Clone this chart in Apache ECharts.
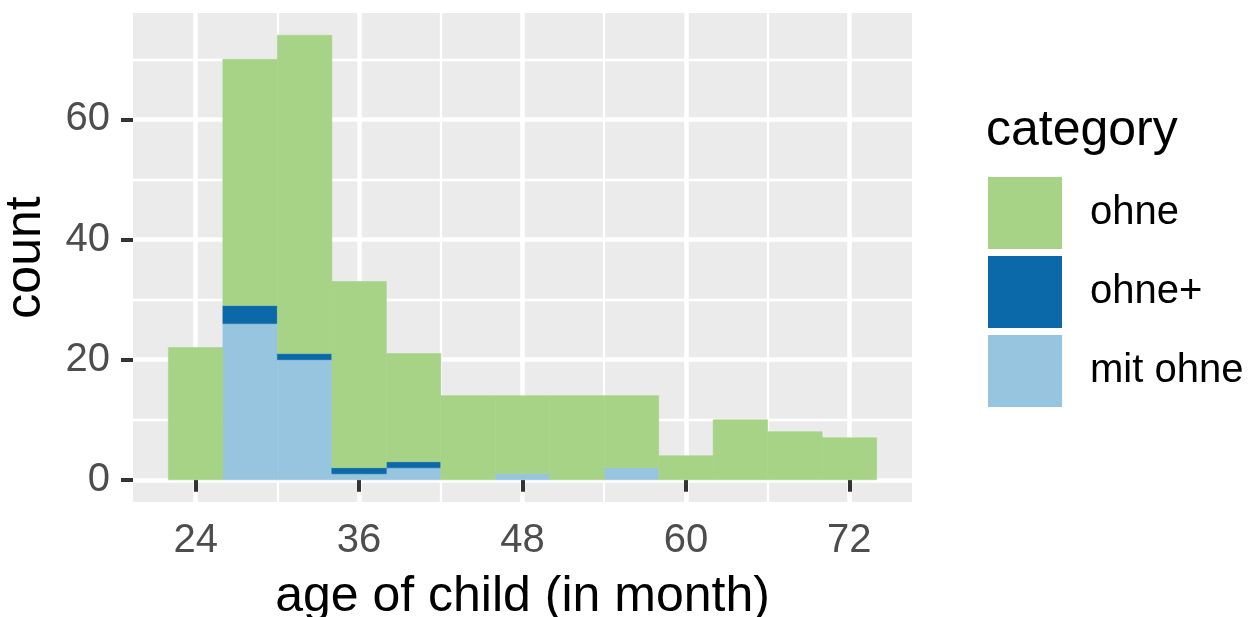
<!DOCTYPE html>
<html>
<head>
<meta charset="utf-8">
<script src="https://cdn.jsdelivr.net/npm/echarts@6/dist/echarts.min.js"></script>
<style>
html,body{margin:0;padding:0;background:#fff;}
#chart{width:1255px;height:617px;}
</style>
</head>
<body>
<div id="chart"></div>
<script>
// ---- data ----
const binStarts = [22, 26, 30, 34, 38, 42, 46, 50, 54, 58, 62, 66, 70];
const binWidth = 4;
const mitOhne  = [0, 26, 20, 1, 2, 0, 1, 0, 2, 0, 0, 0, 0];
const ohnePlus = [0, 3, 1, 1, 1, 0, 0, 0, 0, 0, 0, 0, 0];
const ohne     = [22, 41, 53, 31, 18, 14, 13, 14, 12, 4, 10, 8, 7];
const categoryNames = ['ohne', 'ohne+', 'mit ohne'];
const xTicks = [24, 36, 48, 60, 72];
const xMinor = [30, 42, 54, 66];
const yTicks = [0, 20, 40, 60];
const yMinor = [10, 30, 50, 70];
const xRange = [19.4, 76.6];
const yRange = [-3.7, 77.7];

const colors = {'ohne': '#A7D387', 'ohne+': '#0B69A9', 'mit ohne': '#97C4DF'};
const FONT = 'Liberation Sans, Arial, Helvetica, sans-serif';

// build stacked rectangles: [x0, x1, y0, y1]
function stackRects(layers) {
  const base = binStarts.map(() => 0);
  return layers.map(vals => vals.map((v, i) => {
    const r = [binStarts[i], binStarts[i] + binWidth, base[i], base[i] + v];
    base[i] += v;
    return r;
  }));
}
const [rMit, rPlus, rOhne] = stackRects([mitOhne, ohnePlus, ohne]);

function renderItem(params, api) {
  const y0 = api.value(2), y1 = api.value(3);
  if (y1 <= y0) return null;
  const p0 = api.coord([api.value(0), y1]);
  const p1 = api.coord([api.value(1), y0]);
  const c = api.visual('color');
  return {
    type: 'rect',
    shape: {x: p0[0], y: p0[1], width: p1[0] - p0[0], height: p1[1] - p0[1]},
    style: {fill: c, stroke: c, lineWidth: 0.6}
  };
}
function mkSeries(name, data) {
  return {
    type: 'custom', name: name, renderItem: renderItem,
    itemStyle: {color: colors[name]},
    encode: {x: [0, 1], y: [2, 3]},
    data: data, silent: true, animation: false
  };
}

const chart = echarts.init(document.getElementById('chart'), null, {renderer: 'canvas'});
chart.setOption({
  animation: false,
  backgroundColor: '#ffffff',
  title: {
    text: 'category', left: 986, top: 106, padding: 0,
    textStyle: {fontFamily: FONT, fontSize: 50, fontWeight: 'normal', color: '#000'}
  },
  legend: {
    orient: 'vertical', left: 988, top: 177, padding: 0,
    itemWidth: 74, itemHeight: 72, itemGap: 7,
    icon: 'rect', selectedMode: false,
    data: categoryNames,
    textStyle: {fontFamily: FONT, fontSize: 40, color: '#000', padding: [5, 0, 0, 23]}
  },
  grid: {
    left: 133, right: 343, top: 13, bottom: 115,
    containLabel: false, outerBoundsMode: 'none',
    show: true, backgroundColor: '#EBEBEB', borderWidth: 0
  },
  xAxis: [{
    type: 'value', min: xRange[0], max: xRange[1],
    axisLine: {show: false},
    axisTick: {show: true, length: 12, customValues: xTicks, lineStyle: {color: '#333333', width: 4}},
    axisLabel: {customValues: xTicks, margin: 19, fontFamily: FONT, fontSize: 40, color: '#4D4D4D'},
    splitLine: {show: true, lineStyle: {color: '#ffffff', width: 4.5}},
    name: 'age of child (in month)', nameLocation: 'middle', nameGap: 70,
    nameTextStyle: {fontFamily: FONT, fontSize: 50, color: '#000'}
  }, {
    type: 'value', min: xRange[0], max: xRange[1], position: 'bottom',
    axisLine: {show: false},
    axisTick: {show: false, customValues: xMinor},
    axisLabel: {show: false, customValues: xMinor},
    splitLine: {show: true, lineStyle: {color: '#ffffff', width: 2.3}}
  }],
  yAxis: [{
    type: 'value', min: yRange[0], max: yRange[1],
    axisLine: {show: false},
    axisTick: {show: true, length: 12, customValues: yTicks, lineStyle: {color: '#333333', width: 4}},
    axisLabel: {customValues: yTicks, margin: 23, fontFamily: FONT, fontSize: 40, color: '#4D4D4D'},
    splitLine: {show: true, lineStyle: {color: '#ffffff', width: 4.5}},
    name: 'count', nameLocation: 'middle', nameGap: 82, nameRotate: 90,
    nameTextStyle: {fontFamily: FONT, fontSize: 50, color: '#000'}
  }, {
    type: 'value', min: yRange[0], max: yRange[1], position: 'left',
    axisLine: {show: false},
    axisTick: {show: false, customValues: yMinor},
    axisLabel: {show: false, customValues: yMinor},
    splitLine: {show: true, lineStyle: {color: '#ffffff', width: 2.3}}
  }],
  series: [
    mkSeries('mit ohne', rMit),
    mkSeries('ohne+', rPlus),
    mkSeries('ohne', rOhne)
  ]
});
</script>
</body>
</html>
